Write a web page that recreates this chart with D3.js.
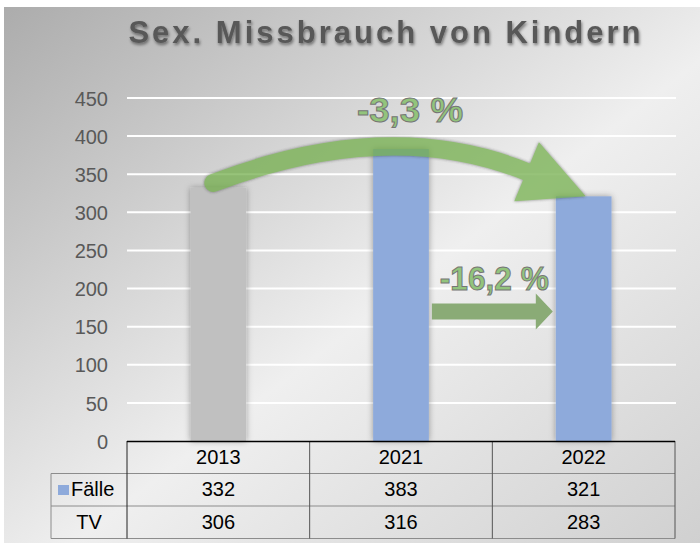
<!DOCTYPE html>
<html>
<head>
<meta charset="utf-8">
<script src="https://cdn.jsdelivr.net/npm/d3@7"></script>
<style>
  body { margin: 0; background: #ffffff; }
  svg { display: block; font-family: "Liberation Sans", Arial, sans-serif; }
</style>
</head>
<body>
<svg id="chart"></svg>
<script>
// data

var years = ["2013", "2021", "2022"];
var faelle = [332, 383, 321];
var tv = [306, 316, 283];
var yTicks = [0, 50, 100, 150, 200, 250, 300, 350, 400, 450];
var title = "Sex. Missbrauch von Kindern";

// settings

var svgWidth = 700;
var svgHeight = 546;
var plotLeft = 127;
var plotRight = 675;
var plotTop = 98;
var plotBottom = 441;
var rowHeight = 32.5;

var svg = d3.select('#chart')
    .attr('width', svgWidth)
    .attr('height', svgHeight);

var defs = svg.append('defs');

// background gradient: dark top-left, light middle, grey bottom-right
var bg = defs.append('linearGradient')
    .attr('id', 'bg')
    .attr('x1', 0).attr('y1', 0).attr('x2', 1).attr('y2', 1);
bg.append('stop').attr('offset', 0).attr('stop-color', '#acacac');
bg.append('stop').attr('offset', 0.55).attr('stop-color', '#efefef');
bg.append('stop').attr('offset', 1).attr('stop-color', '#d0d0d0');

var titleShadow = defs.append('filter').attr('id', 'titleShadow')
    .attr('x', '-10%').attr('y', '-30%').attr('width', '120%').attr('height', '160%');
titleShadow.append('feDropShadow')
    .attr('dx', 1).attr('dy', 2).attr('stdDeviation', 1.5)
    .attr('flood-color', '#000').attr('flood-opacity', 0.45);

var barShadow = defs.append('filter').attr('id', 'barShadow')
    .attr('x', '-30%').attr('y', '-10%').attr('width', '160%').attr('height', '120%');
barShadow.append('feDropShadow')
    .attr('dx', 0).attr('dy', 0).attr('stdDeviation', 3)
    .attr('flood-color', '#000').attr('flood-opacity', 0.35);

var arrowShadow = defs.append('filter').attr('id', 'arrowShadow')
    .attr('x', '-20%').attr('y', '-30%').attr('width', '140%').attr('height', '160%');
arrowShadow.append('feDropShadow')
    .attr('dx', 0).attr('dy', 0).attr('stdDeviation', 1.6)
    .attr('flood-color', '#333').attr('flood-opacity', 0.8);

svg.append('rect')
    .attr('x', 4).attr('y', 7)
    .attr('width', svgWidth - 4).attr('height', 536)
    .attr('fill', 'url(#bg)');

// title
svg.append('text')
    .attr('x', 386).attr('y', 43)
    .attr('text-anchor', 'middle')
    .style('font-size', '31px')
    .style('font-weight', 'bold')
    .style('letter-spacing', '3px')
    .attr('fill', '#595959')
    .attr('filter', 'url(#titleShadow)')
    .text(title);

// scales

var x = d3.scaleBand()
    .domain(years)
    .range([plotLeft, plotRight]);

var y = d3.scaleLinear()
    .domain([0, 450])
    .range([plotBottom, plotTop]);

var barWidth = x.bandwidth() * 0.305;

// gridlines
svg.append('g')
    .selectAll('line')
    .data(yTicks.filter(function(d){ return d > 0; }))
    .enter()
    .append('line')
    .attr('x1', plotLeft).attr('x2', plotRight + 1)
    .attr('y1', function(d){ return y(d); })
    .attr('y2', function(d){ return y(d); })
    .attr('stroke', '#ffffff')
    .attr('stroke-width', 2);

// y axis labels
var yAxis = svg.append('g')
    .attr('transform', 'translate(' + (plotLeft - 19) + ',0)')
    .call(d3.axisLeft(y).tickValues(yTicks).tickSize(0).tickPadding(0));
yAxis.select('.domain').remove();
yAxis.selectAll('text')
    .attr('dy', '0.36em')
    .style('font-family', '"Liberation Sans", Arial, sans-serif')
    .style('font-size', '20px')
    .attr('fill', '#595959');

// bars (first year greyed out)
svg.append('g')
    .selectAll('rect')
    .data(faelle)
    .enter()
    .append('rect')
    .attr('x', function(d, i){ return x(years[i]) + (x.bandwidth() - barWidth) / 2; })
    .attr('y', function(d){ return y(d); })
    .attr('width', barWidth)
    .attr('height', function(d){ return plotBottom - y(d); })
    .attr('fill', function(d, i){ return i === 0 ? '#c0c0c0' : '#8eaadb'; })
    .attr('filter', 'url(#barShadow)');

// percent change helper
function pct(a, b) {
    var v = (b - a) / a * 100;
    return (v < 0 ? '-' : '+') + d3.format('.1f')(Math.abs(v)).replace('.', ',') + ' %';
}

// curved arrow 2013 -> 2022
var cx0 = x(years[0]) + x.bandwidth() / 2;
var cx2 = x(years[2]) + x.bandwidth() / 2;
var p0 = [cx0 - 5, y(faelle[0]) - 5];
var tip = [cx2 + 2, y(faelle[2])];
var ctrl = [x(years[1]) + x.bandwidth() / 2 - 10, y(faelle[1]) - 34];
var headLen = 64;
var dx = tip[0] - ctrl[0], dy = tip[1] - ctrl[1];
var len = Math.sqrt(dx * dx + dy * dy);
var ux = dx / len, uy = dy / len;
var base = [tip[0] - ux * headLen, tip[1] - uy * headLen];
var end = [base[0] + ux * 4, base[1] + uy * 4];
var halfHead = 32;

var curve = svg.append('g')
    .attr('filter', 'url(#arrowShadow)')
    .attr('opacity', 0.72);
curve.append('path')
    .attr('d', 'M' + p0 + 'Q' + ctrl + ' ' + end)
    .attr('fill', 'none')
    .attr('stroke', '#70ad47')
    .attr('stroke-width', 18)
    .attr('stroke-linecap', 'round');
curve.append('path')
    .attr('d', 'M' + tip + 'L' + [base[0] - uy * halfHead, base[1] + ux * halfHead] +
        'L' + [base[0] + uy * halfHead, base[1] - ux * halfHead] + 'Z')
    .attr('fill', '#70ad47');

// straight arrow 2021 -> 2022
var sx0 = x(years[1]) + (x.bandwidth() + barWidth) / 2 + 3;
var sx1 = x(years[2]) + (x.bandwidth() - barWidth) / 2 - 3;
var sy = y(170);
svg.append('path')
    .attr('d', 'M' + sx0 + ',' + (sy - 8) + 'L' + (sx1 - 17) + ',' + (sy - 8) +
        'L' + (sx1 - 17) + ',' + (sy - 18) + 'L' + sx1 + ',' + sy +
        'L' + (sx1 - 17) + ',' + (sy + 18) + 'L' + (sx1 - 17) + ',' + (sy + 8) +
        'L' + sx0 + ',' + (sy + 8) + 'Z')
    .attr('fill', '#8aab76');

// percent labels
svg.append('text')
    .attr('x', 410).attr('y', 122)
    .attr('text-anchor', 'middle')
    .attr('textLength', 106).attr('lengthAdjust', 'spacingAndGlyphs')
    .style('font-size', '35px').style('font-weight', 'bold')
    .attr('fill', '#92c47c').attr('stroke', '#767676').attr('stroke-width', 1)
    .text(pct(faelle[0], faelle[2]));

svg.append('text')
    .attr('x', (sx0 + sx1) / 2 + 2).attr('y', 290)
    .attr('text-anchor', 'middle')
    .attr('textLength', 109).attr('lengthAdjust', 'spacingAndGlyphs')
    .style('font-size', '34px').style('font-weight', 'bold')
    .attr('fill', '#92c47c').attr('stroke', '#767676').attr('stroke-width', 1)
    .text(pct(faelle[1], faelle[2]));

// data table
var table = svg.append('g');
var labelLeft = 51;
var r1 = plotBottom + rowHeight, r2 = r1 + rowHeight, r3 = r2 + rowHeight;

// horizontal lines
[r1, r2, r3].forEach(function(ry){
    table.append('line')
        .attr('x1', labelLeft).attr('x2', plotRight)
        .attr('y1', ry).attr('y2', ry)
        .attr('stroke', '#8c8c8c').attr('stroke-width', 1);
});
table.append('line')
    .attr('x1', labelLeft).attr('x2', labelLeft)
    .attr('y1', r1).attr('y2', r3)
    .attr('stroke', '#8c8c8c');

// vertical lines between columns
table.selectAll('.vline')
    .data(years.concat(['end']))
    .enter()
    .append('line')
    .attr('x1', function(d, i){ return plotLeft + i * x.bandwidth(); })
    .attr('x2', function(d, i){ return plotLeft + i * x.bandwidth(); })
    .attr('y1', plotBottom).attr('y2', r3)
    .attr('stroke', function(d, i){ return i === 0 ? '#222' : '#555'; })
    .attr('stroke-width', 1);

// axis line
table.append('line')
    .attr('x1', plotLeft).attr('x2', plotRight)
    .attr('y1', plotBottom + 0.5).attr('y2', plotBottom + 0.5)
    .attr('stroke', '#000').attr('stroke-width', 1.3);

function rowText(vals, baseline) {
    table.selectAll(null)
        .data(vals)
        .enter()
        .append('text')
        .attr('x', function(d, i){ return x(years[i]) + x.bandwidth() / 2; })
        .attr('y', baseline)
        .attr('text-anchor', 'middle')
        .style('font-size', '20px')
        .attr('fill', '#000')
        .text(function(d){ return d; });
}
rowText(years, 464);
rowText(faelle, 496);
rowText(tv, 529);

// legend swatch + row labels
table.append('rect')
    .attr('x', 58).attr('y', 485)
    .attr('width', 11).attr('height', 10)
    .attr('fill', '#8eaadb');
table.append('text')
    .attr('x', 71).attr('y', 496)
    .style('font-size', '20px')
    .text('Fälle');
table.append('text')
    .attr('x', (labelLeft + plotLeft) / 2).attr('y', 529)
    .attr('text-anchor', 'middle')
    .style('font-size', '20px')
    .text('TV');
</script>
</body>
</html>
